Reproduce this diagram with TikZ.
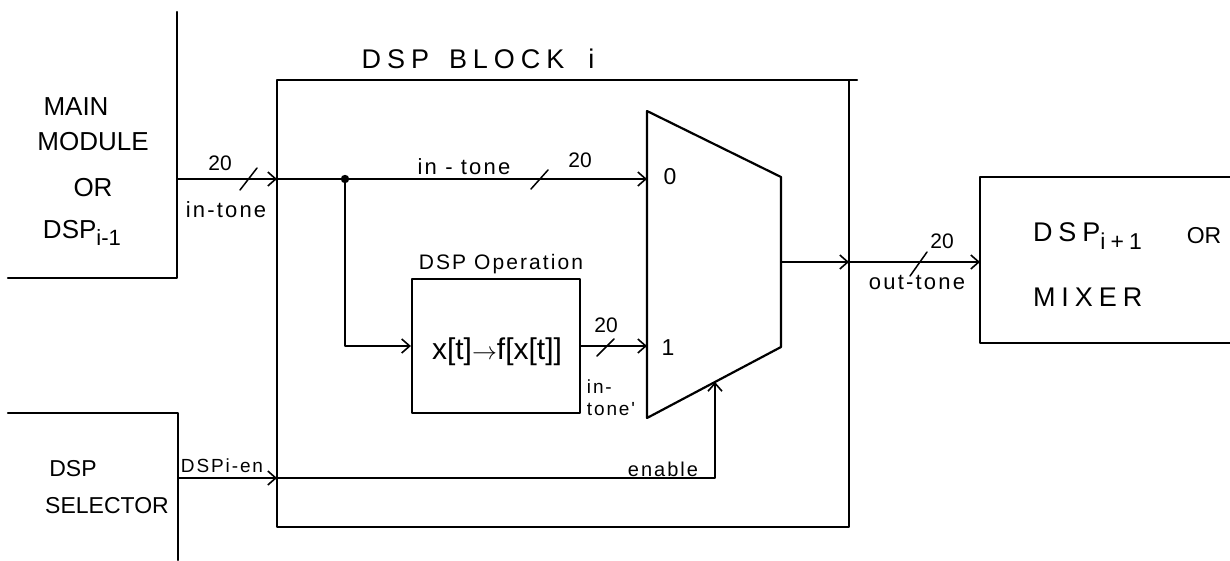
\documentclass[tikz,border=0pt]{standalone}
\usepackage{graphicx}
\usepackage{fontspec}
\setmainfont{Liberation Sans}
\newfontfamily\plain{Liberation Sans}
\newfontfamily\hand[LetterSpace=10]{Liberation Sans}
\newfontfamily\handw[LetterSpace=22]{Liberation Sans}
\usetikzlibrary{arrows.meta}
\newcommand\lowsub[1]{\raisebox{-0.3em}{\scalebox{0.85}{#1}}}
\begin{document}
\begin{tikzpicture}[x=1pt,y=-1pt,line width=2pt,line cap=round,line join=round,
  arr/.style={-{Straight Barb[length=8pt,width=14pt,line width=1.6pt]}},
  tick/.style={line width=1.5pt},
  txt/.style={inner sep=0pt,outer sep=0pt},
  bigtxt/.style={txt,font=\plain\fontsize{26}{28}\selectfont},
  widetxt/.style={txt,font=\handw\fontsize{27}{30}\selectfont},
  midtxt/.style={txt,font=\plain\fontsize{23}{25}\selectfont},
  lbl/.style={txt,font=\hand\fontsize{22}{24}\selectfont},
  smalllbl/.style={txt,font=\hand\fontsize{19}{22}\selectfont},
  num/.style={txt,font=\plain\fontsize{21}{23}\selectfont},
  boxline/.style={line width=2.2pt}]
\useasboundingbox (0,0) rectangle (1230,560);

% --- Main module (partially shown) ---
\draw[boxline] (8,278) -- (177,278) -- (177,12);
\coordinate (mmout) at (177,179);
\node[bigtxt] (mmA) at (76,107) {MAIN};
\node[bigtxt] (mmB) at (93,142) {MODULE};
\node[bigtxt] (mmC) at (93,188) {OR};
\node[bigtxt] (mmD) at (82,233) {DSP\lowsub{i-1}};

% --- DSP selector (partially shown) ---
\draw[boxline] (8,413) -- (178,413) -- (178,560);
\coordinate (selout) at (178,478);
\node[midtxt] (selA) at (73,469) {DSP};
\node[midtxt] (selB) at (107,506) {SELECTOR};

% --- DSP block ---
\draw[boxline] (277,80) rectangle (849,527);
\draw[boxline] (849,80) -- (857,80);
\node[widetxt] (title) at (478,59) {DSP\hspace{20pt}BLOCK\hspace{24pt}i};
\coordinate (blkin) at (277,179);
\coordinate (blken) at (277,478);
\coordinate (blkout) at (849,262);

% --- Multiplexer ---
\draw[boxline] (647,111) -- (781,177) -- (781,347) -- (647,418) -- cycle;
\coordinate (mux0) at (647,179);
\coordinate (mux1) at (647,346);
\coordinate (muxout) at (781,262);
\coordinate (muxsel) at (715,382);
\node[midtxt] (zero) at (670,177) {0};
\node[midtxt] (one) at (668,348) {1};

% --- DSP operation box ---
\node[draw,boxline,minimum width=168pt,minimum height=134pt,inner sep=0pt] (op) at (496,346) {};
\node[txt,font=\plain\fontsize{30}{32}\selectfont] (opfun) at (497,352) {x[t]$\rightarrow$f[x[t]]};
\node[txt,font=\hand\fontsize{21}{24}\selectfont] (optitle) at (501,264) {DSP Operation};

% --- next stage (partially shown) ---
\draw[boxline] (1230,177) -- (980,177) -- (980,343) -- (1230,343);
\coordinate (nextin) at (980,262);
\node[widetxt,anchor=west] (nxA) at (1033,236) {DSP\lowsub{i+1}};
\node[txt,font=\plain\fontsize{23}{25}\selectfont] (nxB) at (1204,236) {OR};
\node[widetxt,anchor=west] (nxC) at (1033,297) {MIXER};

% --- junction ---
\coordinate (jn) at (345,179);

% --- connectors ---
\draw[arr] (mmout) -- (blkin);
\draw[arr] (blkin) -- (mux0);
\fill (jn) circle (4.2pt);
\draw[arr] (jn) |- (op.west);
\draw[arr] (op.east) -- (mux1);
\draw[arr] (muxout) -- (blkout);
\draw[arr] (blkout) -- (nextin);
\draw[arr] (selout) -- (blken);
\draw[arr] (blken) -| (muxsel);

% --- bus width ticks ---
\draw[tick] (240,190) -- (257,168);
\draw[tick] (531,189) -- (548,170);
\draw[tick] (597,356) -- (614,339);
\draw[tick] (910,276) -- (927,252);

% --- labels ---
\node[num] (w1) at (220,163) {20};
\node[lbl] (l1) at (226,210) {in-tone};
\node[lbl] (l2) at (464,167) {in - tone};
\node[num] (w2) at (580,160) {20};
\node[num] (w3) at (606,325) {20};
\node[smalllbl,align=left] (l3) at (611,398) {in-\\tone'};
\node[smalllbl] (l4) at (222,466) {DSPi-en};
\node[txt,font=\hand\fontsize{20}{22}\selectfont] (l5) at (663,469) {enable};
\node[num] (w4) at (942,241) {20};
\node[lbl] (l6) at (917,282) {out-tone};
\end{tikzpicture}
\end{document}
